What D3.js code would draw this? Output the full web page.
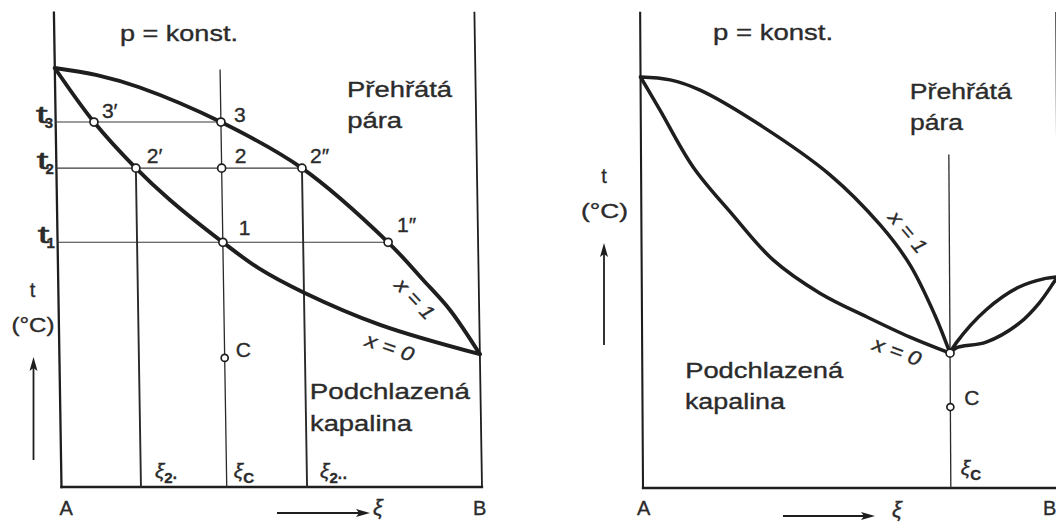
<!DOCTYPE html>
<html>
<head>
<meta charset="utf-8">
<script src="https://cdn.jsdelivr.net/npm/d3@7"></script>
<style>
  html, body { margin: 0; padding: 0; background: #ffffff; }
  svg { display: block; }
  text { font-family: "Liberation Sans", Arial, Helvetica, sans-serif; fill: #2b2b2b; stroke: #2b2b2b; stroke-width: 0.35px; }
</style>
</head>
<body>
<svg id="chart" width="1056" height="524"></svg>
<script>
// Left diagram: ideal (zeotropic) binary mixture A–B at constant pressure.
// Each point is [composition ξ (0 = A, 1 = B), temperature t (relative units)].
const leftDewCurve    = [[0,100],[0.1,98.3],[0.2,95.4],[0.393,87.1],[0.584,76.1],[0.786,58.4],[0.868,49.4],[0.931,42.2],[1,31.7]];
const leftBubbleCurve = [[0,100],[0.091,87.1],[0.189,76.1],[0.269,68.5],[0.393,58.4],[0.476,52.3],[0.582,46.5],[0.764,38.7],[1,31.7]];

// isotherms t3, t2, t1 and the composition where each one ends
const leftIsothermNames = ["3", "2", "1"];
const leftIsothermT     = [87.1, 76.1, 58.4];
const leftIsothermEnd   = [0.393, 0.584, 0.786];

// composition verticals ξ2′, ξC, ξ2″ and the temperature they rise to
const leftCompNames = ["2·", "C", "2··"];
const leftCompXi    = [0.189, 0.393, 0.584];
const leftCompTop   = [76.1, 99.5, 76.1];

// labelled state points
const leftPointNames = ["3′", "3", "2′", "2", "2″", "1", "1″", "C"];
const leftPointXi    = [0.091, 0.393, 0.189, 0.393, 0.584, 0.393, 0.786, 0.393];
const leftPointT     = [87.1, 87.1, 76.1, 76.1, 76.1, 58.4, 58.4, 30.8];

// Right diagram: mixture with a minimum-boiling azeotrope at ξC.
const rightDewCurve    = [[0,100],[0.071,99.3],[0.143,96.8],[0.287,88.3],[0.454,76.2],[0.574,64.0],[0.645,54.3],[0.704,42.1],[0.740,32.8]];
const rightBubbleCurve = [[0,100],[0.046,92.0],[0.125,78.1],[0.220,66.4],[0.316,55.5],[0.428,47.4],[0.541,41.6],[0.644,36.7],[0.740,32.8]];
const rightLensUpper   = [[0.740,32.8],[0.755,35.3],[0.827,43.3],[0.907,48.9],[0.971,51.0],[1,51.4]];
const rightLensLower   = [[0.740,32.8],[0.755,34.1],[0.827,35.5],[0.907,40.1],[0.955,45.0],[0.991,50.1],[1,51.4]];

const rightCompXi  = 0.740;
const rightCompTop = 81.0;
const rightPointNames = ["", "C"];
const rightPointXi    = [0.740, 0.740];
const rightPointT     = [32.8, 19.7];

const axisTopLeft = 113.2;
const axisTopRight = 115.6;

// ---------------------------------------------------------------------------
const svg = d3.select("#chart");
const ink = "#1e1e1e";

// scales for both panels; a slight shear keeps verticals leaning like the print
function panel(xRange, yRange, shear) {
  const x = d3.scaleLinear().domain([0, 1]).range(xRange);
  const y = d3.scaleLinear().domain([0, 100]).range(yRange);
  const P = (xi, t) => [x(xi) - (y(0) - y(t)) * shear, y(t)];
  return { x, y, P };
}
const L = panel([61.5, 482], [487, 68], 0.016);
const R = panel([643, 1059], [488, 77], 0.006);

function curveGen(P) {
  return d3.line()
    .x(d => P(d[0], d[1])[0])
    .y(d => P(d[0], d[1])[1])
    .curve(d3.curveCatmullRom.alpha(0.5));
}

function seg(g, P, a, b, width, color) {
  const p1 = P(a[0], a[1]), p2 = P(b[0], b[1]);
  g.append("line")
    .attr("x1", p1[0]).attr("y1", p1[1])
    .attr("x2", p2[0]).attr("y2", p2[1])
    .attr("stroke", color || ink)
    .attr("stroke-width", width)
    .attr("stroke-linecap", "square");
}

function text(g, xy, str, size, opts) {
  opts = opts || {};
  const t = g.append("text")
    .attr("x", xy[0]).attr("y", xy[1])
    .attr("font-size", size)
    .text(str);
  if (opts.len) t.attr("textLength", opts.len).attr("lengthAdjust", "spacingAndGlyphs");
  if (opts.anchor) t.attr("text-anchor", opts.anchor);
  if (opts.italic) t.attr("font-style", "italic");
  if (opts.rotate !== undefined) {
    t.attr("text-anchor", "middle")
     .attr("dominant-baseline", "central")
     .attr("transform", `rotate(${opts.rotate},${xy[0]},${xy[1]})`);
  }
  return t;
}

function xiLabel(g, xy, sub) {
  const t = g.append("text").attr("x", xy[0]).attr("y", xy[1]).attr("font-size", 21);
  t.append("tspan").attr("font-style", "italic").text("ξ");
  t.append("tspan").attr("dy", 5).attr("font-size", 15).attr("font-weight", "bold").text(sub);
}

function arrowUp(g, x, y0, y1) {
  g.append("line").attr("x1", x).attr("y1", y0).attr("x2", x).attr("y2", y1 + 6)
    .attr("stroke", ink).attr("stroke-width", 1.8);
  g.append("path")
    .attr("d", `M${x},${y1} L${x - 4},${y1 + 14} L${x},${y1 + 11} L${x + 4},${y1 + 14} Z`)
    .attr("fill", ink);
}
function arrowRight(g, x0, x1, y) {
  g.append("line").attr("x1", x0).attr("y1", y).attr("x2", x1 - 6).attr("y2", y)
    .attr("stroke", ink).attr("stroke-width", 1.8);
  g.append("path")
    .attr("d", `M${x1},${y} L${x1 - 14},${y - 4} L${x1 - 11},${y} L${x1 - 14},${y + 4} Z`)
    .attr("fill", ink);
}

function circle(g, xy, r) {
  g.append("circle").attr("cx", xy[0]).attr("cy", xy[1]).attr("r", r)
    .attr("fill", "#ffffff").attr("stroke", ink).attr("stroke-width", 1.7);
}

// ---------------------------------------------------------------- left panel
(function () {
  const g = svg.append("g");
  const P = L.P;

  // frame: A axis, B axis, composition axis
  seg(g, P, [0, 0], [0, axisTopLeft], 2.3);
  seg(g, P, [1, 0], [1, axisTopLeft], 1.8);
  seg(g, P, [0, 0], [1, 0], 2.3);

  // isotherms
  leftIsothermT.forEach((t, i) => seg(g, P, [0, t], [leftIsothermEnd[i], t], 1.1, "#3a3a3a"));
  // composition verticals
  leftCompXi.forEach((xi, i) => seg(g, P, [xi, 0], [xi, leftCompTop[i]], i === 1 ? 1.3 : 1.9, "#2a2a2a"));

  // saturation curves
  const line = curveGen(P);
  [leftDewCurve, leftBubbleCurve].forEach(c => g.append("path")
    .attr("d", line(c)).attr("fill", "none").attr("stroke", ink)
    .attr("stroke-width", 3.9).attr("stroke-linejoin", "round").attr("stroke-linecap", "round"));

  // state points and their names
  const nudge = { "3′": [8, -4], "3": [13, 0], "2′": [11, -5], "2": [13, -5],
                  "2″": [8, -5], "1": [16, -7], "1″": [9, -10], "C": [11, -1] };
  leftPointNames.forEach((name, i) => {
    const xy = P(leftPointXi[i], leftPointT[i]);
    circle(g, xy, name === "C" ? 3.5 : 4);
    text(g, [xy[0] + nudge[name][0], xy[1] + nudge[name][1]], name, 21);
  });

  // isotherm names t3, t2, t1 left of the A axis
  leftIsothermNames.forEach((n, i) => {
    const y = P(0, leftIsothermT[i])[1];
    const x = P(0, leftIsothermT[i])[0];
    text(g, [x - 20, y + 1], "t", 24, { len: 12 });
    text(g, [x - 11, y + 6], n, 15).attr("font-weight", "bold");
  });

  // composition names under the curves
  const xiShift = [14, 7, 13];
  leftCompNames.forEach((n, i) => {
    const xy = P(leftCompXi[i], 0);
    xiLabel(g, [xy[0] + xiShift[i], xy[1] - 9], n);
  });

  // curve names
  text(g, P(0.848, 44.9), "x = 1", 20, { italic: true, rotate: 47, len: 48 });
  text(g, P(0.786, 33.4), "x = 0", 20, { italic: true, rotate: 19, len: 50 });

  // region and condition labels
  text(g, P(0.156, 106.4), "p = konst.", 22, { len: 118 });
  text(g, P(0.694, 93.1), "Přehřátá", 22, { len: 105 });
  text(g, P(0.693, 85.7), "pára", 22, { len: 55 });
  text(g, P(0.594, 21.0), "Podchlazená", 22, { len: 160 });
  text(g, P(0.593, 13.4), "kapalina", 22, { len: 102 });

  // axis titles
  const a0 = P(0, 0);
  text(g, [a0[0] - 29, 297], "t", 20, { anchor: "middle" });
  text(g, [a0[0] - 50, 332], "(°C)", 20, { len: 43 });
  arrowUp(g, a0[0] - 28, 460, 357);
  text(g, [a0[0] - 2, a0[1] + 28], "A", 20);
  text(g, [P(1, 0)[0] - 9, a0[1] + 28], "B", 20);
  arrowRight(g, 277, 370, 513);
  text(g, [373, 515], "ξ", 22, { italic: true });
})();

// --------------------------------------------------------------- right panel
(function () {
  const g = svg.append("g");
  const P = R.P;

  seg(g, P, [0, 0], [0, axisTopRight], 2.1);
  seg(g, P, [1, 0], [1, axisTopRight], 1.8);
  seg(g, P, [0, 0], [1, 0], 2.3);

  seg(g, P, [rightCompXi, 0], [rightCompXi, rightCompTop], 1.3, "#2a2a2a");

  const line = curveGen(P);
  [rightDewCurve, rightBubbleCurve, rightLensUpper, rightLensLower].forEach(c => g.append("path")
    .attr("d", line(c)).attr("fill", "none").attr("stroke", ink)
    .attr("stroke-width", 3.5).attr("stroke-linejoin", "round").attr("stroke-linecap", "round"));

  rightPointNames.forEach((name, i) => {
    const xy = P(rightPointXi[i], rightPointT[i]);
    circle(g, xy, name === "C" ? 3.5 : 4);
    if (name) text(g, [xy[0] + 14, xy[1] - 2], name, 21);
  });

  const cx = P(rightCompXi, 0);
  xiLabel(g, [cx[0] + 10, cx[1] - 13], "C");

  text(g, P(0.641, 62.3), "x = 1", 20, { italic: true, rotate: 50, len: 48 });
  text(g, P(0.613, 33.3), "x = 0", 20, { italic: true, rotate: 20, len: 50 });

  text(g, P(0.175, 109), "p = konst.", 22, { len: 120 });
  text(g, P(0.647, 94.6), "Přehřátá", 22, { len: 102 });
  text(g, P(0.647, 87.1), "pára", 22, { len: 53 });
  text(g, P(0.103, 26.8), "Podchlazená", 22, { len: 158 });
  text(g, P(0.102, 19.2), "kapalina", 22, { len: 100 });

  const a0 = P(0, 0);
  text(g, [a0[0] - 39, 183], "t", 20, { anchor: "middle" });
  text(g, [a0[0] - 62, 218], "(°C)", 20, { len: 47 });
  arrowUp(g, a0[0] - 39, 345, 243);
  text(g, [a0[0] - 6, a0[1] + 27], "A", 20);
  text(g, [1043, a0[1] + 27], "B", 20);
  arrowRight(g, 783, 875, 516);
  text(g, [892, 517], "ξ", 22, { italic: true });
})();
</script>
</body>
</html>
